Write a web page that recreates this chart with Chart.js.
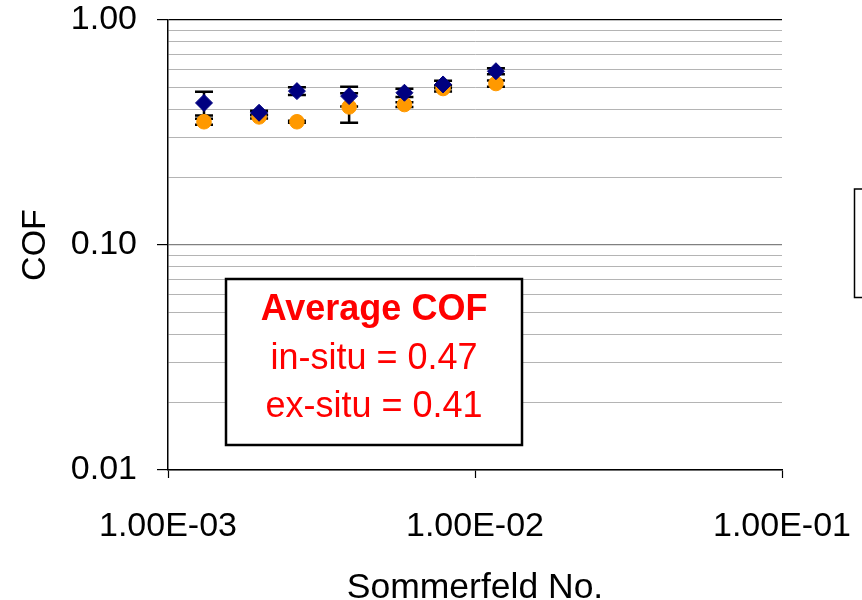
<!DOCTYPE html>
<html>
<head>
<meta charset="utf-8">
<script src="https://cdn.jsdelivr.net/npm/chart.js@4/dist/chart.umd.min.js"></script>
<style>
  html, body { margin: 0; padding: 0; background: #fff; }
  #wrap { width: 862px; height: 600px; position: relative; }
</style>
</head>
<body>
<div id="wrap"><canvas id="c" width="862" height="600"></canvas></div>
<script>
// ---- data ----
const sommerfeld = [0.00131, 0.00198, 0.00263, 0.00389, 0.00589, 0.00787, 0.0117];
const inSitu     = [0.428, 0.387, 0.483, 0.459, 0.475, 0.517, 0.592];
const inSituErr  = [0.052, 0.008, 0.019, 0.046, 0.020, 0.020, 0.018];
const exSitu     = [0.353, 0.371, 0.353, 0.411, 0.421, 0.496, 0.522];
const exSituErr  = [0.011, 0.006, 0.004, 0.062, 0.010, 0.015, 0.017];

const xTickValues = [0.001, 0.01, 0.1];
const xTickLabels = ['1.00E-03', '1.00E-02', '1.00E-01'];
const yMajorValues = [0.01, 0.1, 1];
const yMajorLabels = ['0.01', '0.10', '1.00'];
const yMinorValues = [0.02, 0.03, 0.04, 0.05, 0.06, 0.07, 0.08, 0.09,
                      0.2, 0.3, 0.4, 0.5, 0.6, 0.7, 0.8, 0.9];

const seriesNames = ['in-situ', 'ex-situ'];
const boxTitle = 'Average COF';
const boxLines = ['in-situ = 0.47', 'ex-situ = 0.41'];
const xTitle = 'Sommerfeld No.';
const yTitle = 'COF';

const FONT = "'Liberation Sans', Arial, Helvetica, sans-serif";

const errorBars = {
  id: 'errorBars',
  beforeDatasetsDraw(chart) {
    const ctx = chart.ctx;
    const xs = chart.scales.x, ys = chart.scales.y;
    const sets = [[inSitu, inSituErr], [exSitu, exSituErr]];
    ctx.save();
    ctx.strokeStyle = '#000';
    ctx.lineWidth = 2.5;
    sets.forEach(([vals, errs]) => {
      vals.forEach((v, j) => {
        const x = xs.getPixelForValue(sommerfeld[j]);
        const yt = ys.getPixelForValue(v + errs[j]);
        const yb = ys.getPixelForValue(v - errs[j]);
        const cw = 9;
        ctx.beginPath();
        ctx.moveTo(x, yt); ctx.lineTo(x, yb);
        ctx.moveTo(x - cw, yt); ctx.lineTo(x + cw, yt);
        ctx.moveTo(x - cw, yb); ctx.lineTo(x + cw, yb);
        ctx.stroke();
      });
    });
    ctx.restore();
  }
};

const decorations = {
  id: 'decorations',
  afterDraw(chart) {
    const ctx = chart.ctx;
    const a = chart.chartArea;
    ctx.save();
    // annotation box
    const bx = a.left + 58, by = a.top + 259, bw = 296, bh = 166;
    ctx.fillStyle = '#fff';
    ctx.fillRect(bx, by, bw, bh);
    ctx.strokeStyle = '#000';
    ctx.lineWidth = 2.5;
    ctx.strokeRect(bx, by, bw, bh);
    ctx.fillStyle = '#ff0000';
    ctx.textAlign = 'center';
    ctx.textBaseline = 'alphabetic';
    const cx = bx + bw / 2;
    ctx.font = 'bold 36px ' + FONT;
    ctx.fillText(boxTitle, cx, by + 41);
    ctx.font = '36px ' + FONT;
    ctx.fillText(boxLines[0], cx, by + 90);
    ctx.fillText(boxLines[1], cx, by + 138);
    // legend frame (mostly outside the picture)
    ctx.strokeStyle = '#000';
    ctx.lineWidth = 1.5;
    ctx.strokeRect(a.right + 72.5, a.top + 169, 200, 108.5);
    ctx.restore();
  }
};

new Chart(document.getElementById('c'), {
  type: 'scatter',
  data: {
    datasets: [
      {
        label: seriesNames[0],
        data: sommerfeld.map((x, i) => ({ x, y: inSitu[i] })),
        pointStyle: 'rectRot',
        pointRadius: 8.5,
        backgroundColor: '#000080',
        borderColor: '#000080',
        borderWidth: 1
      },
      {
        label: seriesNames[1],
        data: sommerfeld.map((x, i) => ({ x, y: exSitu[i] })),
        pointStyle: 'circle',
        pointRadius: 7.3,
        backgroundColor: '#ff9900',
        borderColor: '#ff9900',
        borderWidth: 1
      }
    ]
  },
  options: {
    responsive: false,
    animation: false,
    events: [],
    layout: { padding: { left: 0, right: 80, top: 20, bottom: 0 } },
    plugins: { legend: { display: false }, tooltip: { enabled: false } },
    scales: {
      x: {
        type: 'logarithmic',
        min: 0.001, max: 0.1,
        afterBuildTicks(s) { s.ticks = xTickValues.map(v => ({ value: v, major: true })); },
        afterFit(s) { s.height = 130; s.paddingLeft = 0; s.paddingRight = 0; },
        ticks: {
          autoSkip: false, maxRotation: 0, minRotation: 0,
          padding: 28,
          color: '#000',
          font: { family: FONT, size: 34 },
          callback(v) { const i = xTickValues.indexOf(v); return i >= 0 ? xTickLabels[i] : ''; }
        },
        grid: { drawOnChartArea: false, tickLength: 8, tickColor: '#000', tickWidth: 1.2 },
        border: { display: true, color: '#000', width: 1.5 },
        title: {
          display: true, text: xTitle, color: '#000',
          font: { family: FONT, size: 35.5, lineHeight: '24px' },
          padding: { top: 0, bottom: 0 }
        }
      },
      y: {
        type: 'logarithmic',
        min: 0.01, max: 1,
        afterBuildTicks(s) {
          const all = yMajorValues.map(v => ({ value: v, major: true }))
            .concat(yMinorValues.map(v => ({ value: v, major: false })));
          all.sort((p, q) => p.value - q.value);
          s.ticks = all;
        },
        afterFit(s) { s.width = 168; s.paddingTop = 0; s.paddingBottom = 0; },
        ticks: {
          autoSkip: false,
          padding: 20,
          color: '#000',
          font: { family: FONT, size: 34 },
          callback(v) { const i = yMajorValues.indexOf(v); return i >= 0 ? yMajorLabels[i] : ''; }
        },
        grid: {
          drawOnChartArea: true,
          tickLength: 11,
          color(c) {
            if (!c.tick) return '#b4b4b4';
            if (c.tick.value === 1) return '#000';
            return c.tick.major ? '#808080' : '#b4b4b4';
          },
          lineWidth(c) { return (c.tick && c.tick.major) ? 1.2 : 1; },
          tickColor(c) { return (c.tick && c.tick.major) ? '#000' : 'rgba(0,0,0,0)'; }
        },
        border: { display: true, color: '#000', width: 1.5 },
        title: {
          display: true, text: yTitle, color: '#000',
          font: { family: FONT, size: 34, lineHeight: 1 },
          padding: { top: 19, bottom: 0 }
        }
      }
    }
  },
  plugins: [errorBars, decorations]
});
</script>
</body>
</html>
